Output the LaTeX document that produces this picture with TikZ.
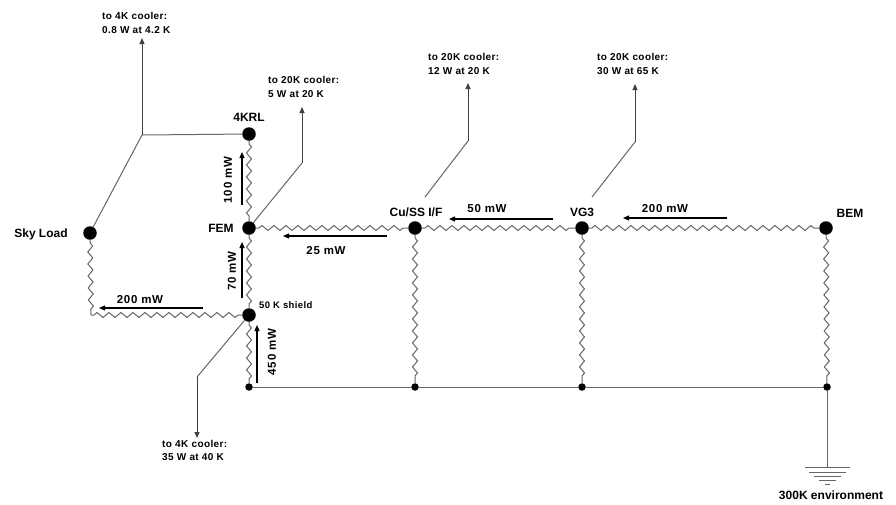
\documentclass[tikz,border=0pt]{standalone}
\usepackage{fontspec}
\setmainfont{Liberation Sans}
\usetikzlibrary{decorations.pathmorphing,arrows.meta}
\begin{document}
\begin{tikzpicture}[x=1pt,y=-1pt,
  bignode/.style={circle,fill=black,inner sep=0pt,minimum size=13.5pt},
  smalldot/.style={circle,fill=black,inner sep=0pt,minimum size=7.5pt},
  res/.style={draw=black!60,line width=1pt,decorate,decoration={zigzag,segment length=12pt,amplitude=2.5pt,pre length=3pt,post length=3pt}},
  wire/.style={draw=black!60,line width=1pt},
  coolarrow/.style={draw=black!75,line width=1pt,-{Triangle[length=6pt,width=5pt]}},
  flow/.style={draw=black,line width=1.1pt,-{Triangle[length=6pt,width=5pt]}},
  lbl/.style={font=\fontsize{12}{14}\selectfont\bfseries,inner sep=0pt},
  mwl/.style={font=\fontsize{11.5}{14}\selectfont\bfseries\addfontfeature{LetterSpace=6},inner sep=0pt},
  cool/.style={font=\fontsize{10}{13.5}\selectfont\bfseries\addfontfeature{LetterSpace=4},align=left,inner sep=0pt,anchor=west}
]
\useasboundingbox (0,0) rectangle (896,504);
\fill[white] (0,0) rectangle (896,504);

% main nodes
\node[bignode] (krl) at (249,134) {};
\node[bignode] (fem) at (249,228) {};
\node[bignode] (sky) at (90,233) {};
\node[bignode] (shield) at (249,315) {};
\node[bignode] (cuss) at (415,228) {};
\node[bignode] (vg3) at (582,228) {};
\node[bignode] (bem) at (826,228) {};
\node[smalldot] (b1) at (249,387) {};
\node[smalldot] (b2) at (415,387) {};
\node[smalldot] (b3) at (582,387) {};
\node[smalldot] (b4) at (827,387) {};

% labels
\node[lbl] (lkrl) at (249,117) {4KRL};
\node[lbl] (lfem) at (221,228) {FEM};
\node[lbl] (lsky) at (41,234) {Sky Load};
\node[lbl,font=\fontsize{9.5}{11}\selectfont\bfseries\addfontfeature{LetterSpace=4},anchor=west] (lshield) at (259,305) {50 K shield};
\node[lbl] (lcuss) at (416,212) {Cu/SS I/F};
\node[lbl] (lvg3) at (582,212) {VG3};
\node[lbl] (lbem) at (850,213) {BEM};
\node[lbl] (lenv) at (831,495) {300K environment};

% resistors
\draw[res] (krl) -- (fem);
\draw[res] (fem) -- (shield);
\draw[res] (shield) -- (b1);
\coordinate (skycorner) at (91,315);
\draw[res] (sky) -- (skycorner);
\draw[res] (skycorner) -- (shield);
\draw[res] (fem) -- (cuss);
\draw[res] (cuss) -- (vg3);
\draw[res] (vg3) -- (bem);
\draw[res] (cuss) -- (b2);
\draw[res] (vg3) -- (b3);
\draw[res] (bem) -- (b4);

% bottom bus and ground
\draw[wire] (b1) -- (b2) -- (b3) -- (b4);
\coordinate (gnd) at (827,467);
\draw[wire] (b4) -- (gnd);
\draw[wire] (805,467) -- (850,467);
\draw[wire] (809,472) -- (846,472);
\draw[wire] (814,476) -- (841,476);
\draw[wire] (819,480) -- (836,480);
\draw[wire] (825,484) -- (830,484);

% cooler links
\coordinate (k4j) at (142,135);
\coordinate (k4top) at (142,38);
\draw[wire] (sky) -- (k4j) -- (krl);
\draw[coolarrow] (k4j) -- (k4top);
\node[cool] (c4top) at (102,23) {to 4K cooler:\\0.8 W at 4.2 K};

\coordinate (c5j) at (302,163);
\coordinate (c5top) at (302,107);
\draw[wire] (fem) -- (c5j);
\draw[coolarrow] (c5j) -- (c5top);
\node[cool] (c5) at (268,87) {to 20K cooler:\\5 W at 20 K};

\coordinate (c12a) at (425,197);
\coordinate (c12j) at (468,141);
\coordinate (c12top) at (468,83);
\draw[wire] (c12a) -- (c12j);
\draw[coolarrow] (c12j) -- (c12top);
\node[cool] (c12) at (428,64) {to 20K cooler:\\12 W at 20 K};

\coordinate (c30a) at (592,197);
\coordinate (c30j) at (635,142);
\coordinate (c30top) at (635,84);
\draw[wire] (c30a) -- (c30j);
\draw[coolarrow] (c30j) -- (c30top);
\node[cool] (c30) at (597,64) {to 20K cooler:\\30 W at 65 K};

\coordinate (c35j) at (197,377);
\coordinate (c35bot) at (197,438);
\draw[wire] (shield) -- (c35j);
\draw[coolarrow] (c35j) -- (c35bot);
\node[cool] (c35) at (162,450.5) {to 4K cooler:\\35 W at 40 K};

% heat flow arrows
\coordinate (f100a) at (242,205); \coordinate (f100b) at (242,152);
\draw[flow] (f100a) -- (f100b);
\node[mwl,rotate=90] (l100) at (228,180) {100 mW};

\coordinate (f70a) at (242,298); \coordinate (f70b) at (242,242);
\draw[flow] (f70a) -- (f70b);
\node[mwl,rotate=90] (l70) at (232,271) {70 mW};

\coordinate (f450a) at (257,383); \coordinate (f450b) at (257,325);
\draw[flow] (f450a) -- (f450b);
\node[mwl,rotate=90] (l450) at (272,352) {450 mW};

\coordinate (f200la) at (203,308); \coordinate (f200lb) at (99,308);
\draw[flow] (f200la) -- (f200lb);
\node[mwl] (l200l) at (140,300) {200 mW};

\coordinate (f25a) at (387,236); \coordinate (f25b) at (283,236);
\draw[flow] (f25a) -- (f25b);
\node[mwl] (l25) at (326,251) {25 mW};

\coordinate (f50a) at (553,219); \coordinate (f50b) at (449,219);
\draw[flow] (f50a) -- (f50b);
\node[mwl] (l50) at (487,209) {50 mW};

\coordinate (f200ra) at (727,218); \coordinate (f200rb) at (623,218);
\draw[flow] (f200ra) -- (f200rb);
\node[mwl] (l200r) at (665,209) {200 mW};
\end{tikzpicture}
\end{document}
